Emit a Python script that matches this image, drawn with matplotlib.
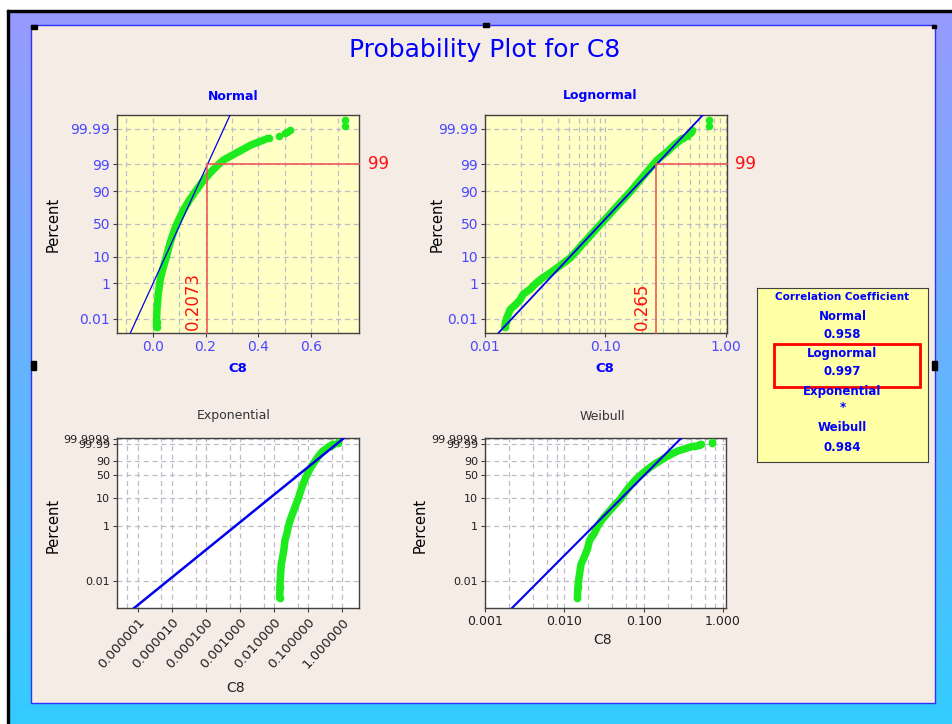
import math
import numpy as np
import matplotlib
matplotlib.use("Agg")
import matplotlib.pyplot as plt
from matplotlib.patches import Rectangle

# C8 quantiles (percent, value)
body_pct = [0.0025, 0.006, 0.012, 0.04, 0.08, 0.15, 0.3, 0.5, 1.0, 1.7, 3.0, 4.2,
            6.5, 9.1, 15, 22.7, 33, 43.6, 55, 71, 82, 89.8, 95, 98.0, 99.0, 99.4,
            99.77, 99.9, 99.95]
body_c8 = [0.0146, 0.0148, 0.0152, 0.0162, 0.0180, 0.0196, 0.0208, 0.0235, 0.0265,
           0.0300, 0.0357, 0.0396, 0.0455, 0.0511, 0.0582, 0.0659, 0.0755, 0.0853,
           0.0970, 0.1173, 0.1379, 0.1616, 0.188, 0.2225, 0.249, 0.2697, 0.3268,
           0.372, 0.4217]
# sparse upper tail points
tail_pct = [99.96, 99.963, 99.972, 99.981, 99.985, 99.989, 99.994, 99.9975]
tail_c8 = [0.432, 0.440, 0.477, 0.500, 0.510, 0.521, 0.729, 0.729]

# fitted distributions
NORM_MU, NORM_SIGMA = 0.1045, 0.0442
LOGN_MED, LOGN_SLOPE = 0.0914, 0.1987      # median, log10 sd
EXPO_THETA = 0.074
WEIB_SHAPE, WEIB_SCALE = 2.88, 0.1163

# 99th percentile markers
P99_NORMAL = 0.2073
P99_LOGNORMAL = 0.265

corr_names = ["Normal", "Lognormal", "Exponential", "Weibull"]
corr_values = ["0.958", "0.997", "*", "0.984"]

prob_ticks = [0.01, 1, 10, 50, 90, 99, 99.99]
prob_labels = ["0.01", "1", "10", "50", "90", "99", "99.99"]
sev_ticks = [0.01, 1, 10, 50, 90, 99.99, 99.9999]
sev_labels = ["0.01", "1", "10", "50", "90", "99.99", "99.9999"]

GREEN = "#1EEB1E"
LINE_BLUE = "#0000EE"
TICK_BLUE = "#4848FF"
TITLE_BLUE = "#0000FF"
RED = "#FF1010"
RED_LINE = "#F05A5A"
GRID = "#BDBDC8"
W, H = 952, 724

A = [-3.969683028665376e+01, 2.209460984245205e+02, -2.759285104469687e+02,
     1.383577518672690e+02, -3.066479806614716e+01, 2.506628277459239e+00]
B = [-5.447609879822406e+01, 1.615858368580409e+02, -1.556989798598866e+02,
     6.680131188771972e+01, -1.328068155288572e+01]
C = [-7.784894002430293e-03, -3.223964580411365e-01, -2.400758277161838e+00,
     -2.549732539343734e+00, 4.374664141464968e+00, 2.938163982698783e+00]
D = [7.784695709041462e-03, 3.224671290700398e-01, 2.445134137142996e+00,
     3.754408661907416e+00]


def norm_ppf(q):
    q = np.clip(np.asarray(q, float), 1e-15, 1 - 1e-15)
    lo = np.minimum(q, 1 - q)
    r = np.sqrt(-2 * np.log(lo))
    tail = (((((C[0]*r + C[1])*r + C[2])*r + C[3])*r + C[4])*r + C[5]) / \
           ((((D[0]*r + D[1])*r + D[2])*r + D[3])*r + 1)
    tail = np.where(q < 0.5, tail, -tail)
    s = q - 0.5
    t = s * s
    mid = (((((A[0]*t + A[1])*t + A[2])*t + A[3])*t + A[4])*t + A[5]) * s / \
          (((((B[0]*t + B[1])*t + B[2])*t + B[3])*t + B[4])*t + 1)
    return np.where(lo < 0.02425, tail, mid)


_erf = np.vectorize(math.erf, otypes=[float])


def phi(z):
    return 0.5 * (1 + _erf(np.asarray(z, float) / math.sqrt(2)))


def norm_fwd(p):
    return norm_ppf(np.asarray(p, float) / 100)


def norm_inv(z):
    return 100 * phi(np.clip(np.asarray(z, float), -9, 9))


def sev_fwd(p):
    p = np.clip(np.asarray(p, float) / 100, 1e-15, 1 - 1e-15)
    return np.log(-np.log1p(-p))


def sev_inv(w):
    w = np.clip(np.asarray(w, float), -40, 4)
    return 100 * -np.expm1(-np.exp(w))


def px(x, y):
    return x / W, 1 - y / H


def add_ax(x0, y0, x1, y1):
    return fig.add_axes([x0 / W, 1 - y1 / H, (x1 - x0) / W, (y1 - y0) / H])


def draw_points(ax):
    ax.plot(body_c8, body_pct, color=GREEN, lw=5.4, solid_capstyle="round",
            solid_joinstyle="round", zorder=4)
    ax.plot(body_c8[:2], body_pct[:2], "o", color=GREEN, ms=5.5, mec="none", zorder=4)
    ax.plot(tail_c8, tail_pct, "o", color=GREEN, ms=5.5, mec="none", zorder=4)


def style(ax, face, label_color, size):
    ax.set_facecolor(face)
    for s in ax.spines.values():
        s.set_color("#404040")
        s.set_linewidth(1)
    ax.tick_params(which="major", length=3, color="#404040", labelsize=size,
                   labelcolor=label_color, pad=2)
    ax.tick_params(which="minor", length=0)
    ax.grid(True, which="both", color=GRID, ls=(0, (4, 3)), lw=0.9)
    ax.set_axisbelow(True)


fig = plt.figure(figsize=(W / 100, H / 100), dpi=100)

# background frame
bg = fig.add_axes([0, 0, 1, 1])
bg.set_xlim(0, W)
bg.set_ylim(H, 0)
bg.axis("off")
top_col = np.array([153, 153, 255]) / 255
bot_col = np.array([51, 204, 255]) / 255
frac = np.linspace(0, 1, H)[:, None, None]
grad = top_col * (1 - frac) + bot_col * frac
bg.imshow(grad, extent=[0, W, H, 0], aspect="auto", zorder=0)
bg.add_patch(Rectangle((0, 0), W, 10, color="white", zorder=1))
bg.add_patch(Rectangle((0, 0), 7, H, color="white", zorder=1))
bg.add_patch(Rectangle((7, 10), W, 2, color="black", zorder=2))
bg.add_patch(Rectangle((7, 10), 2, H, color="black", zorder=2))
bg.add_patch(Rectangle((31, 25), 904, 678, facecolor="#F5ECE6", edgecolor="#3030FF",
                       lw=1, zorder=2))
for hx, hy, hw, hh in [(31, 25, 6, 4), (483, 23, 6, 4), (31, 361, 5, 9),
                       (932, 361, 5, 9), (932, 25, 4, 3)]:
    bg.add_patch(Rectangle((hx, hy), hw, hh, color="black", zorder=3))

fig.text(*px(485, 50), "Probability Plot for C8", color=TITLE_BLUE, fontsize=18,
         ha="center", va="center")

# ---- Normal ----
ax = add_ax(117, 115, 359.3, 332.7)
ax.set_yscale("function", functions=(norm_fwd, norm_inv))
style(ax, "#FFFFC6", TICK_BLUE, 10)
draw_points(ax)
zs = np.array([-4.8, 4.8])
ax.plot(NORM_MU + NORM_SIGMA * zs, norm_inv(zs), color=LINE_BLUE, lw=0.9, zorder=5)
ax.plot([P99_NORMAL, P99_NORMAL, 0.782], [0.001, 99, 99], color=RED_LINE, lw=1.2,
        zorder=6, clip_on=False)
ax.set_xlim(-0.135, 0.782)
ax.set_ylim(0.001, 99.999)
ax.set_xticks([0.0, 0.2, 0.4, 0.6], ["0.0", "0.2", "0.4", "0.6"])
ax.set_xticks(np.arange(-0.1, 0.75, 0.1), minor=True)
ax.set_yticks(prob_ticks, prob_labels)
ax.yaxis.set_minor_locator(matplotlib.ticker.NullLocator())
ax.text(1.035, 99, "99", color=RED, fontsize=12, va="center", ha="left",
        transform=ax.get_yaxis_transform(), clip_on=False)
ax.annotate("0.2073", (P99_NORMAL, 0.012), xycoords=("data", "axes fraction"),
            xytext=(-4, 0), textcoords="offset points", rotation=90, color=RED,
            fontsize=12, ha="right", va="bottom")

# ---- Lognormal ----
ax = add_ax(485, 115, 726.5, 332.7)
ax.set_xscale("log")
ax.set_yscale("function", functions=(norm_fwd, norm_inv))
style(ax, "#FFFFC6", TICK_BLUE, 10)
draw_points(ax)
ax.plot(10 ** (math.log10(LOGN_MED) + LOGN_SLOPE * zs), norm_inv(zs), color=LINE_BLUE,
        lw=1.3, zorder=5)
ax.plot([P99_LOGNORMAL, P99_LOGNORMAL, 1.01], [0.001, 99, 99], color=RED_LINE, lw=1.2,
        zorder=6, clip_on=False)
ax.set_xlim(0.01, 1.01)
ax.set_ylim(0.001, 99.999)
ax.set_xticks([0.01, 0.1, 1.0], ["0.01", "0.10", "1.00"])
ax.xaxis.set_minor_locator(matplotlib.ticker.LogLocator(subs=np.arange(2, 10)))
ax.set_yticks(prob_ticks, prob_labels)
ax.yaxis.set_minor_locator(matplotlib.ticker.NullLocator())
ax.text(1.035, 99, "99", color=RED, fontsize=12, va="center", ha="left",
        transform=ax.get_yaxis_transform(), clip_on=False)
ax.annotate("0.265", (P99_LOGNORMAL, 0.012), xycoords=("data", "axes fraction"),
            xytext=(-4, 0), textcoords="offset points", rotation=90, color=RED,
            fontsize=12, ha="right", va="bottom")

ws = np.array([-13.0, 2.8])

# ---- Exponential ----
ax = add_ax(117, 438.3, 359.3, 608.3)
ax.set_xscale("log")
ax.set_yscale("function", functions=(sev_fwd, sev_inv))
style(ax, "white", "#202020", 8)
draw_points(ax)
ax.plot(EXPO_THETA * np.exp(ws), sev_inv(ws), color=LINE_BLUE, lw=1.8, zorder=5)
ax.set_xlim(2.5e-7, 3.14)
ax.set_ylim(0.00105, 99.99996)
exp_ticks = [1e-6, 1e-5, 1e-4, 1e-3, 1e-2, 1e-1, 1.0]
ax.set_xticks(exp_ticks, ["%.6f" % v for v in exp_ticks])
ax.set_xticks([5e-7, 5e-6, 5e-5, 5e-4, 5e-3, 5e-2, 0.5], minor=True)
ax.set_xticklabels([], minor=True)
plt.setp(ax.get_xticklabels(), rotation=48, ha="right", va="top",
         rotation_mode="anchor", fontsize=9.5)
ax.set_yticks(sev_ticks, sev_labels)
ax.yaxis.set_minor_locator(matplotlib.ticker.NullLocator())

# ---- Weibull ----
ax = add_ax(485, 438.3, 726, 608.3)
ax.set_xscale("log")
ax.set_yscale("function", functions=(sev_fwd, sev_inv))
style(ax, "white", "#202020", 8)
draw_points(ax)
ax.plot(WEIB_SCALE * np.exp(ws / WEIB_SHAPE), sev_inv(ws), color=LINE_BLUE, lw=1.5,
        zorder=5)
ax.set_xlim(0.001, 1.09)
ax.set_ylim(0.00105, 99.99996)
ax.set_xticks([0.001, 0.01, 0.1, 1.0], ["0.001", "0.010", "0.100", "1.000"])
ax.xaxis.set_minor_locator(matplotlib.ticker.LogLocator(subs=[2, 4, 6, 8]))
ax.tick_params(axis="x", labelsize=9)
ax.set_yticks(sev_ticks, sev_labels)
ax.yaxis.set_minor_locator(matplotlib.ticker.NullLocator())

# panel titles and axis labels
for x, y, t in [(233, 96, "Normal"), (600, 96, "Lognormal")]:
    fig.text(*px(x, y), t, color=TITLE_BLUE, fontsize=9, fontweight="bold",
             ha="center", va="center")
for x, y, t in [(234, 416, "Exponential"), (602, 416, "Weibull")]:
    fig.text(*px(x, y), t, color="#333333", fontsize=9, ha="center", va="center")
for x, y in [(238, 368), (605, 368)]:
    fig.text(*px(x, y), "C8", color=TITLE_BLUE, fontsize=9.5, fontweight="bold",
             ha="center", va="center")
fig.text(*px(236, 688), "C8", color="#202020", fontsize=10, ha="center", va="center")
fig.text(*px(603, 640), "C8", color="#202020", fontsize=10, ha="center", va="center")
for x, y in [(53, 224), (437, 224), (53, 525), (420, 525)]:
    fig.text(*px(x, y), "Percent", color="black", fontsize=10.5, rotation=90,
             ha="center", va="center")

# correlation coefficient box
box = add_ax(757, 288, 928, 462)
box.set_facecolor("#FFFFA6")
box.set_xticks([])
box.set_yticks([])
for s in box.spines.values():
    s.set_color("#404040")
box.set_xlim(0, 1)
box.set_ylim(0, 1)
box.add_patch(Rectangle((0.099, 0.431), 0.854, 0.247, fill=False, edgecolor="#FF0000",
                        lw=2))
box.text(0.5, 0.947, "Correlation Coefficient", color=TITLE_BLUE, fontsize=7.5,
         fontweight="bold", ha="center", va="center")
rows = [0.839, 0.730, 0.621, 0.519, 0.404, 0.312, 0.197, 0.082]
for i, (name, val) in enumerate(zip(corr_names, corr_values)):
    box.text(0.5, rows[2 * i], name, color=TITLE_BLUE, fontsize=8.5, fontweight="bold",
             ha="center", va="center")
    box.text(0.5, rows[2 * i + 1], val, color=TITLE_BLUE, fontsize=8.5, fontweight="bold",
             ha="center", va="center")

fig.savefig("out.png", dpi=100)
